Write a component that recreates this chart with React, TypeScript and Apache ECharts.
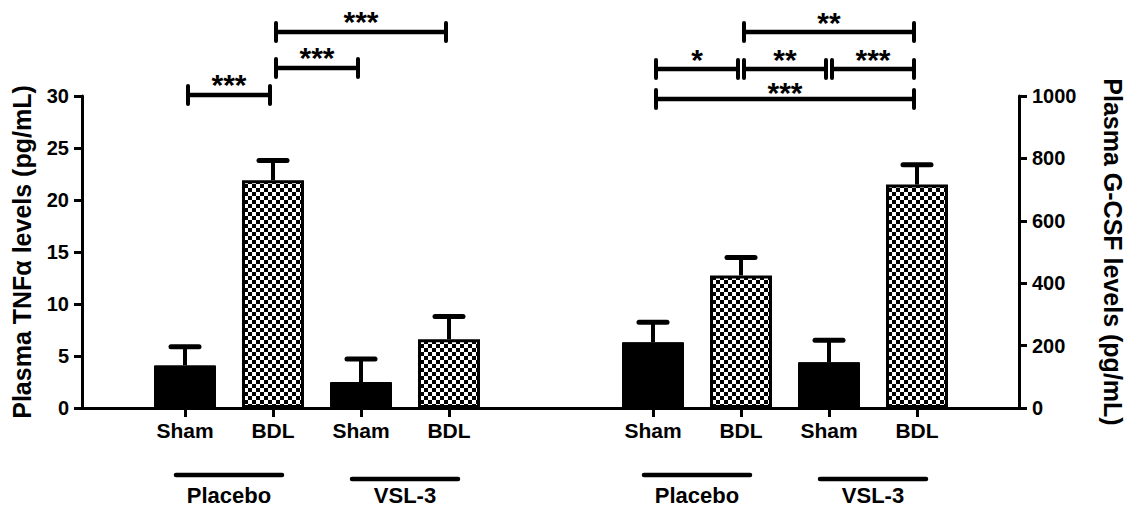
import React, { useEffect, useRef } from "react";
import * as echarts from "echarts";

// ---------- data ----------
const categories = ["Sham", "BDL", "Sham", "BDL"];
const groups = ["Placebo", "VSL-3"];
const groupSpans = [
  [0, 1],
  [2, 3],
];
const tnfMean = [4.1, 21.9, 2.5, 6.6];
const tnfUpper = [5.9, 23.8, 4.7, 8.8];
const gcsfMean = [211, 425, 147, 716];
const gcsfUpper = [275, 482, 217, 780];
const tnfAxis = { min: 0, max: 30, interval: 5, name: "Plasma TNF\u03b1 levels (pg/mL)" };
const gcsfAxis = { min: 0, max: 1000, interval: 200, name: "Plasma G-CSF levels (pg/mL)" };
const tnfBrackets = [
  { from: 0, to: 1, label: "***", tier: 0 },
  { from: 1, to: 2, label: "***", tier: 1 },
  { from: 1, to: 3, label: "***", tier: 2 },
];
const gcsfBrackets = [
  { from: 0, to: 3, label: "***", tier: 0 },
  { from: 0, to: 1, label: "*", tier: 1 },
  { from: 1, to: 2, label: "**", tier: 1 },
  { from: 2, to: 3, label: "***", tier: 1 },
  { from: 1, to: 3, label: "**", tier: 2 },
];

// ---------- style / layout ----------
const FONT = "'Liberation Sans', Arial, Helvetica, sans-serif";
const GRID_TOP = 96;
const GRID_H = 312;
const TIER_Y_LEFT = [95, 68, 32];
const TIER_Y_RIGHT = [99, 69, 32];
const STAR_GAP_LEFT = [15, 15, 15];
const STAR_GAP_RIGHT = [11, 14, 14];
const GROUP_DROP = [67, 71];

function makeChecker() {
  const c = document.createElement("canvas");
  c.width = 8;
  c.height = 8;
  const ctx = c.getContext("2d")!;
  ctx.fillStyle = "#000";
  ctx.fillRect(0, 0, 8, 8);
  ctx.fillStyle = "#fff";
  ctx.fillRect(0, 0, 4, 4);
  ctx.fillRect(4, 4, 4, 4);
  return c;
}

export default function App() {
  const ref = useRef<HTMLDivElement>(null);
  useEffect(() => {
    if (!ref.current) return;
    const chart = echarts.init(ref.current, undefined, { renderer: "svg" });
    const checker = makeChecker();

    const barData = (vals: number[]) =>
      vals.map((v, i) => ({
        value: v,
        itemStyle:
          categories[i] === "BDL"
            ? { color: { image: checker, repeat: "repeat" }, borderColor: "#000", borderWidth: 3 }
            : { color: "#000", borderColor: "#000", borderWidth: 1 },
      }));

    const errSeries = (mean: number[], upper: number[], xi: number, yi: number) => ({
      type: "custom",
      xAxisIndex: xi,
      yAxisIndex: yi,
      z: 5,
      encode: { x: 0, y: [1, 2] },
      data: categories.map((_, i) => [i, mean[i], upper[i]]),
      renderItem: (params: any, api: any) => {
        const i = api.value(0);
        const base = api.coord([i, api.value(1)]);
        const top = api.coord([i, api.value(2)]);
        return {
          type: "group",
          children: [
            { type: "line", shape: { x1: top[0], y1: base[1], x2: top[0], y2: top[1] }, style: { stroke: "#000", lineWidth: 4 } },
            { type: "line", shape: { x1: top[0] - 14, y1: top[1], x2: top[0] + 14, y2: top[1] }, style: { stroke: "#000", lineWidth: 5, lineCap: "round" } },
          ],
        };
      },
    });

    const bracketSeries = (brs: any[], tierY: number[], starGap: number[], xi: number, yi: number) => ({
      type: "custom",
      xAxisIndex: xi,
      yAxisIndex: yi,
      clip: false,
      z: 6,
      encode: { x: [0, 1], y: 2 },
      data: brs.map((b) => [b.from, b.to, 0]),
      renderItem: (params: any, api: any) => {
        const b = brs[params.dataIndex];
        const x1 = api.coord([b.from, 0])[0] + 3;
        const x2 = api.coord([b.to, 0])[0] - 3;
        const y = tierY[b.tier];
        return {
          type: "group",
          children: [
            { type: "line", shape: { x1, y1: y, x2, y2: y }, style: { stroke: "#000", lineWidth: 4.5 } },
            { type: "line", shape: { x1, y1: y - 9, x2: x1, y2: y + 9 }, style: { stroke: "#000", lineWidth: 4, lineCap: "round" } },
            { type: "line", shape: { x1: x2, y1: y - 9, x2, y2: y + 9 }, style: { stroke: "#000", lineWidth: 4, lineCap: "round" } },
            {
              type: "text",
              style: {
                text: b.label,
                x: (x1 + x2) / 2,
                y: y - starGap[b.tier] + 4,
                align: "center",
                verticalAlign: "middle",
                fontSize: 30,
                fontWeight: "bold",
                fontFamily: FONT,
                fill: "#000",
              },
            },
          ],
        };
      },
    });

    const groupLineSeries = (xi: number, yi: number) => ({
      type: "custom",
      xAxisIndex: xi,
      yAxisIndex: yi,
      clip: false,
      encode: { x: [0, 1], y: 2 },
      data: groupSpans.map((s) => [s[0], s[1], 0]),
      renderItem: (params: any, api: any) => {
        const s = groupSpans[params.dataIndex];
        const p1 = api.coord([s[0], 0]);
        const p2 = api.coord([s[1], 0]);
        const y = p1[1] + GROUP_DROP[params.dataIndex];
        return {
          type: "line",
          shape: { x1: p1[0] - 9, y1: y, x2: p2[0] + 9, y2: y },
          style: { stroke: "#000", lineWidth: 4.5, lineCap: "round" },
        };
      },
    });

    const catAxis = (gi: number) => ({
      gridIndex: gi,
      type: "category",
      data: categories,
      axisLine: { show: false },
      axisTick: { show: true, alignWithLabel: true, length: 9, lineStyle: { color: "#000", width: 3 } },
      axisLabel: { margin: 12, color: "#000", fontSize: 21, fontWeight: "bold", fontFamily: FONT },
      splitLine: { show: false },
    });
    const groupAxis = (gi: number) => ({
      gridIndex: gi,
      type: "category",
      data: groups,
      position: "bottom",
      offset: 74,
      axisLine: { show: false },
      axisTick: { show: false },
      axisLabel: { margin: 2, color: "#000", fontSize: 22, fontWeight: "bold", fontFamily: FONT },
      splitLine: { show: false },
    });
    const valueAxis = (cfg: any, pos: string, gap: number, rot: number) => ({
      gridIndex: 0,
      type: "value",
      position: pos,
      min: cfg.min,
      max: cfg.max,
      interval: cfg.interval,
      name: cfg.name,
      nameLocation: "middle",
      nameGap: gap,
      nameRotate: rot,
      nameTextStyle: { color: "#000", fontSize: 25, fontWeight: "bold", fontFamily: FONT },
      axisLine: { show: true, lineStyle: { color: "#000", width: 3 } },
      axisTick: { show: true, length: 8, lineStyle: { color: "#000", width: 3 } },
      axisLabel: { margin: 13, color: "#000", fontSize: 20, fontWeight: "bold", fontFamily: FONT, formatter: (v: number) => String(v) },
      splitLine: { show: false },
    });
    const hiddenY = (gi: number, cfg: any) => ({ gridIndex: gi, type: "value", min: cfg.min, max: cfg.max, show: false, splitLine: { show: false } });

    chart.setOption({
      animation: false,
      backgroundColor: "#fff",
      grid: [
        { left: 82, top: GRID_TOP, width: 940, height: GRID_H },
        { left: 141, top: GRID_TOP, width: 352, height: GRID_H },
        { left: 609, top: GRID_TOP, width: 352, height: GRID_H },
      ],
      xAxis: [
        {
          gridIndex: 0,
          type: "value",
          min: 0,
          max: 1,
          axisLine: { show: true, onZero: false, lineStyle: { color: "#000", width: 3 } },
          axisTick: { show: false },
          axisLabel: { show: false },
          splitLine: { show: false },
        },
        catAxis(1),
        groupAxis(1),
        catAxis(2),
        groupAxis(2),
      ],
      yAxis: [
        valueAxis(tnfAxis, "left", 48, 90),
        valueAxis(gcsfAxis, "right", 81, -90),
        hiddenY(1, tnfAxis),
        hiddenY(2, gcsfAxis),
      ],
      series: [
        { type: "bar", xAxisIndex: 1, yAxisIndex: 2, barWidth: 62, data: barData(tnfMean) },
        errSeries(tnfMean, tnfUpper, 1, 2),
        bracketSeries(tnfBrackets, TIER_Y_LEFT, STAR_GAP_LEFT, 1, 2),
        groupLineSeries(1, 2),
        { type: "bar", xAxisIndex: 3, yAxisIndex: 3, barWidth: 62, data: barData(gcsfMean) },
        errSeries(gcsfMean, gcsfUpper, 3, 3),
        bracketSeries(gcsfBrackets, TIER_Y_RIGHT, STAR_GAP_RIGHT, 3, 3),
        groupLineSeries(3, 3),
      ],
    });
    return () => chart.dispose();
  }, []);
  return <div ref={ref} style={{ width: 1133, height: 513, position: "absolute", left: 0, top: 0 }} />;
}
